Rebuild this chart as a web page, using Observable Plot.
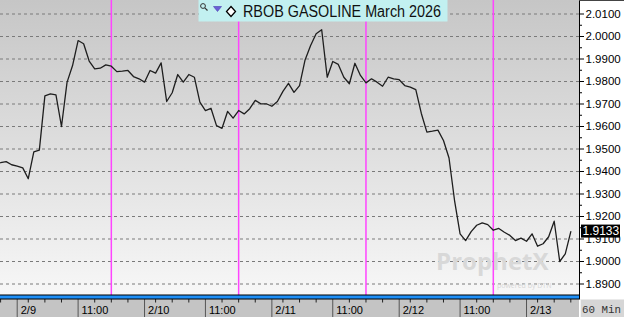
<!DOCTYPE html>
<html>
<head>
<meta charset="utf-8">
<script src="https://cdn.jsdelivr.net/npm/d3@7"></script>
<script src="https://cdn.jsdelivr.net/npm/@observablehq/plot@0.6"></script>
<style>
html,body{margin:0;padding:0;background:#fff;}
#chart svg{display:block;}
</style>
</head>
<body>
<div id="chart"></div>
<script>
// ---------- data ----------
const title = "RBOB GASOLINE March 2026";
const intervalLabel = "60 Min";
const barsPerSession = 23;          // hourly bars per trading day
const firstBar = -3;                // bar index of first close (0 = 2/9 00:00)
const closes = [
  1.9439, 1.9444, 1.9430,
  1.9424, 1.9416, 1.9368, 1.9487, 1.9495, 1.9736, 1.9745, 1.9741, 1.9600, 1.9796, 1.9871,
  1.9982, 1.9968, 1.9891, 1.9856, 1.9859, 1.9874, 1.9868, 1.9844, 1.9846, 1.9849, 1.9822, 1.9812,
  1.9797, 1.9849, 1.9837, 1.9883, 1.9711, 1.9750, 1.9831, 1.9797, 1.9831, 1.9819, 1.9708,
  1.9671, 1.9681, 1.9604, 1.9592, 1.9667, 1.9637, 1.9671, 1.9656, 1.9679, 1.9716, 1.9701, 1.9701,
  1.9690, 1.9711, 1.9756, 1.9792, 1.9752, 1.9782, 1.9896, 1.9960, 2.0012, 2.0030, 1.9819,
  1.9889, 1.9876, 1.9819, 1.9790, 1.9881, 1.9827, 1.9794, 1.9812, 1.9797, 1.9779, 1.9819, 1.9812,
  1.9808, 1.9782, 1.9775, 1.9764, 1.9658, 1.9575, 1.9579, 1.9584, 1.9538, 1.9460, 1.9271,
  1.9123, 1.9093, 1.9133, 1.9161, 1.9172, 1.9164, 1.9139, 1.9147, 1.9130, 1.9116, 1.9093, 1.9104,
  1.9090, 1.9123, 1.9068, 1.9079, 1.9110, 1.9179, 1.9000, 1.9034, 1.9133
];
const dayLabels = ["2/9", "2/10", "2/11", "2/12", "2/13"];
const midLabel = "11:00";
const midOffset = 11;               // bars after midnight
const sessionBreakOffset = 17;      // bars after midnight (session change)
const minorOffsets = [2, 5, 8, 14, 17, 20];
const yTicks = [1.89, 1.90, 1.91, 1.92, 1.93, 1.94, 1.95, 1.96, 1.97, 1.98, 1.99, 2.00, 2.01];

// ---------- derived tables ----------
const data = closes.map((v, k) => ({bar: firstBar + k, close: v}));
const xDomain = [-3.017, 101.57];
const yDomain = [1.88489, 2.016];
const inX = b => b >= xDomain[0] && b <= xDomain[1];

const majorTicks = [];
dayLabels.forEach((lab, d) => {
  majorTicks.push({bar: d * barsPerSession, label: lab});
  majorTicks.push({bar: d * barsPerSession + midOffset, label: midLabel});
});
const majors = majorTicks.filter(t => inX(t.bar));
const labelOf = new Map(majors.map(t => [t.bar, t.label]));
const minorTicks = [];
for (let d = -1; d < dayLabels.length; d++) minorOffsets.forEach(o => minorTicks.push(d * barsPerSession + o));
const minors = minorTicks.filter(inX);
const sessionBreaks = dayLabels.map((_, d) => d * barsPerSession + sessionBreakOffset).filter(inX);
const yMinor = yTicks.slice(0, -1).map((t, k) => (t + yTicks[k + 1]) / 2);
const last = closes[closes.length - 1];
const fmt = d3.format(".4f");

// ---------- chrome ----------
function background(index, scales, values, dim) {
  const {width, height, marginRight, marginBottom} = dim;
  const pr = width - marginRight, pb = height - marginBottom;
  const g = d3.create("svg:g");
  const lg = g.append("defs").append("linearGradient")
    .attr("id", "bgGrad").attr("x1", 0).attr("y1", 0).attr("x2", 0).attr("y2", 1);
  lg.append("stop").attr("offset", "0%").attr("stop-color", "#c6c6c6");
  lg.append("stop").attr("offset", "100%").attr("stop-color", "#f7f7f7");
  g.append("rect").attr("x", 0).attr("y", 0).attr("width", pr).attr("height", pb).attr("fill", "url(#bgGrad)");
  g.append("rect").attr("x", 0).attr("y", pb).attr("width", pr).attr("height", marginBottom).attr("fill", "#c4c4c4");
  return g.node();
}

function overlay(index, scales, values, dim) {
  const {width, height, marginRight, marginBottom} = dim;
  const pr = width - marginRight, pb = height - marginBottom;
  const g = d3.create("svg:g").attr("text-anchor", "start");
  // scroll bar
  g.append("rect").attr("x", 0).attr("y", pb - 0.5).attr("width", pr).attr("height", 5).attr("fill", "#000");
  g.append("rect").attr("x", 0).attr("y", pb + 0.5).attr("width", pr).attr("height", 3).attr("fill", "#1e8ff7");
  // right axis line
  g.append("line").attr("x1", pr + 0.5).attr("x2", pr + 0.5).attr("y1", 0).attr("y2", pb + 4.5).attr("stroke", "#000");
  g.append("line").attr("x1", pr).attr("x2", width).attr("y1", 0.5).attr("y2", 0.5).attr("stroke", "#444");
  // interval box
  g.append("rect").attr("x", pr + 1).attr("y", pb + 4.5).attr("width", width - pr - 1).attr("height", marginBottom - 4.5).attr("fill", "#d6d6d6");
  g.append("line").attr("x1", pr + 1.5).attr("x2", pr + 1.5).attr("y1", pb + 4.5).attr("y2", height).attr("stroke", "#f2f2f2");
  g.append("text").attr("x", pr + 3).attr("y", height - 4).attr("text-anchor", "start")
    .attr("font-family", "'Liberation Mono', 'DejaVu Sans Mono', monospace").attr("font-size", 10.8)
    .attr("fill", "#333").text(intervalLabel);
  // title box
  const tg = g.append("g");
  tg.append("rect").attr("x", 198.5).attr("y", 0).attr("width", 249).attr("height", 21.5).attr("fill", "#c2f0f0");
  // magnifier
  tg.append("circle").attr("cx", 203).attr("cy", 6).attr("r", 2.4).attr("fill", "none").attr("stroke", "#333").attr("stroke-width", 1);
  tg.append("line").attr("x1", 204.8).attr("y1", 7.8).attr("x2", 207.5).attr("y2", 10.5).attr("stroke", "#333").attr("stroke-width", 1.2);
  // triangle
  tg.append("path").attr("d", "M213.5,6.5 L221.5,6.5 L217.5,11.5 Z").attr("fill", "#6b5fd6").attr("stroke", "#4a3fb0").attr("stroke-width", 0.6);
  // diamond
  tg.append("path").attr("d", "M231,6.5 L235.5,11.5 L231,16.5 L226.5,11.5 Z").attr("fill", "#fff").attr("stroke", "#000").attr("stroke-width", 1.3);
  tg.append("text").attr("x", 243).attr("y", 16.8).attr("text-anchor", "start")
    .attr("font-family", "'Liberation Sans', Arial, sans-serif").attr("font-size", 16)
    .attr("textLength", 198).attr("lengthAdjust", "spacingAndGlyphs")
    .attr("fill", "#111").text(title);
  // last price tag
  const yl = scales.y(last);
  g.append("rect").attr("x", pr + 2).attr("y", yl - 6.5).attr("width", 39).attr("height", 13).attr("fill", "#000");
  g.append("text").attr("x", pr + 3.5).attr("y", yl + 4.3).attr("fill", "#fff").attr("text-anchor", "start")
    .attr("font-family", "'Liberation Sans', Arial, sans-serif").attr("font-size", 12).text(fmt(last));
  return g.node();
}

// ---------- plot ----------
const chart = Plot.plot({
  width: 624,
  height: 317,
  marginTop: 0,
  marginLeft: 0,
  marginRight: 45,
  marginBottom: 22,
  x: {type: "linear", domain: xDomain, axis: null},
  y: {domain: yDomain, axis: null},
  style: {background: "#fff", fontFamily: "'Liberation Sans', Arial, sans-serif", overflow: "visible"},
  marks: [
    background,
    Plot.gridY(yTicks, {stroke: "#7a7a7a", strokeOpacity: 1, strokeDasharray: "3,3"}),
    Plot.text(["ProphetX"], {frameAnchor: "bottom-right", dx: -31, dy: -33, textAnchor: "end", lineAnchor: "middle",
      fontSize: 24, fontWeight: "bold", fill: "#d8d8d8", fontFamily: "'Open Sans', sans-serif"}),
    Plot.text(["powered by DTN"], {frameAnchor: "bottom-right", dx: -28, dy: -10, textAnchor: "end", lineAnchor: "middle",
      fontSize: 7, fill: "#d6d6d6", fontFamily: "'Open Sans', sans-serif"}),
    Plot.ruleX(sessionBreaks, {stroke: "#ff44ff", strokeWidth: 1.5}),
    Plot.line(data, {x: "bar", y: "close", stroke: "#1e1e1e", strokeWidth: 1.3}),
    Plot.axisY(yTicks, {anchor: "right", tickSize: 4, tickPadding: 2, tickFormat: fmt, fontSize: 11.5, color: "#000", label: null}),
    Plot.axisY(yMinor, {anchor: "right", tickSize: 2, tickFormat: () => "", color: "#000", label: null}),
    Plot.axisX(majors.map(t => t.bar), {anchor: "bottom", tickSize: 22, tickFormat: () => "", stroke: "#555", label: null}),
    Plot.axisX(minors, {anchor: "bottom", tickSize: 7.5, tickFormat: () => "", stroke: "#222", label: null}),
    Plot.axisX(majors.map(t => t.bar), {anchor: "bottom", tickSize: 0, tickPadding: 11, tickFormat: d => labelOf.get(d),
      textAnchor: "start", dx: 3.5, fontSize: 11, fill: "#000", label: null}),
    overlay
  ]
});
document.getElementById("chart").appendChild(chart);
</script>
</body>
</html>
